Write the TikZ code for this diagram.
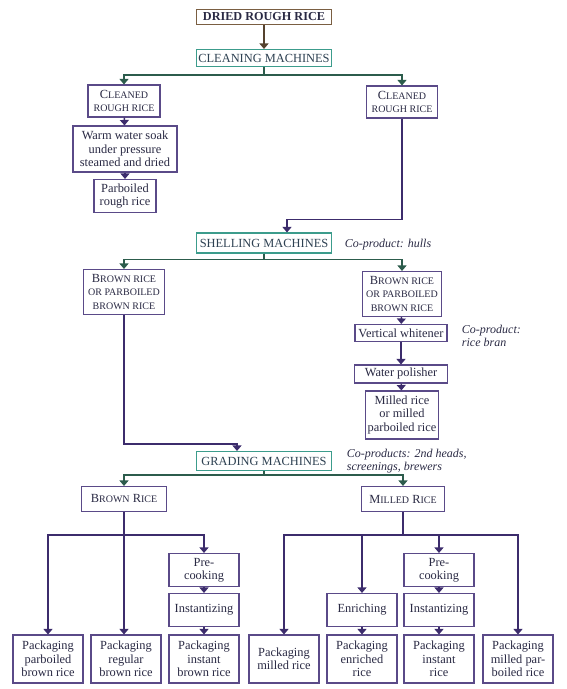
\documentclass[tikz,border=0pt]{standalone}
\usepackage{fontspec}
\setmainfont{Liberation Serif}
\usetikzlibrary{arrows.meta, positioning}

\definecolor{boxpurple}{HTML}{5A4A88}
\definecolor{arrpurple}{HTML}{3C2C6C}
\definecolor{machteal}{HTML}{3C9C8C}
\definecolor{arrgreen}{HTML}{2C5C4C}
\definecolor{rawbrown}{HTML}{7A5E42}
\definecolor{inkdark}{HTML}{2A2A44}

\newcommand{\smcap}[1]{{\fontsize{10}{13.3}\selectfont #1}}

\begin{document}
\begin{tikzpicture}[
    x=1pt, y=-1pt,
    >={Triangle[width=9pt,length=5.5pt]}, line width=1.3pt,
    font=\fontsize{12.4}{13.3}\selectfont,
    step box/.style={
      draw=boxpurple, fill=white, text=inkdark,
      align=center, inner sep=1.5pt, line width=1.1pt},
    machine/.style={
      draw=machteal, fill=white, text=inkdark!80!machteal,
      minimum width=135pt, minimum height=19pt,
      align=center, inner sep=1.5pt, line width=1.1pt},
    pack/.style={
      step box, minimum width=70pt, minimum height=48pt},
    small step/.style={
      step box, minimum width=70pt, minimum height=33pt},
    coprod/.style={
      anchor=west, align=left, text=inkdark, font=\fontsize{12}{12.5}\selectfont\itshape},
    gflow/.style={->, arrgreen},
    pflow/.style={->, arrpurple},
]
\useasboundingbox (0,0) rectangle (567,689);

% ---- intake and cleaning ----
\node[draw=rawbrown, fill=white, text=inkdark, line width=1.1pt,
      minimum width=135pt, minimum height=15pt, inner sep=1pt,
      font=\fontsize{12.2}{13}\selectfont\bfseries] (raw) at (264,17) {DRIED ROUGH RICE};
\node[machine, minimum height=17pt] (cleaning) at (264,58) {CLEANING MACHINES};

\node[step box, minimum width=72pt, minimum height=32pt] (cleanA) at (124,101)
  {C\smcap{LEANED}\\\smcap{ROUGH RICE}};
\node[step box, minimum width=71pt, minimum height=32pt] (cleanB) at (402,102)
  {C\smcap{LEANED}\\\smcap{ROUGH RICE}};

\node[step box, minimum width=104pt, minimum height=46pt] (soak) at (125,149)
  {Warm water soak\\under pressure\\steamed and dried};
\node[step box, minimum width=62pt, minimum height=33pt] (parboiled) at (125,196)
  {Parboiled\\rough rice};

% ---- shelling ----
\node[machine, minimum height=20pt] (shelling) at (264,243) {SHELLING MACHINES};
\node[coprod] (hulls) at (341,245) {Co-product: hulls};

\node[step box, minimum width=81pt, minimum height=45pt] (brownA) at (124,292)
  {B\smcap{ROWN RICE}\\\smcap{OR PARBOILED}\\\smcap{BROWN RICE}};
\node[step box, minimum width=79pt, minimum height=45pt] (brownB) at (402,294)
  {B\smcap{ROWN RICE}\\\smcap{OR PARBOILED}\\\smcap{BROWN RICE}};

\node[step box, minimum width=92pt, minimum height=17pt] (whitener) at (401,333) {Vertical whitener};
\node[coprod] (bran) at (458,336) {Co-product:\\rice bran};
\node[step box, minimum width=93pt, minimum height=18pt] (polisher) at (401,374) {Water polisher};
\node[step box, minimum width=73pt, minimum height=48pt] (milledout) at (402,415)
  {Milled rice\\or milled\\parboiled rice};

% ---- grading ----
\node[machine] (grading) at (264,461) {GRADING MACHINES};
\node[coprod] (gradenote) at (343,461) {Co-products: 2nd heads,\\screenings, brewers};

\node[step box, minimum width=85pt, minimum height=25pt] (brownrice) at (124,499)
  {B\smcap{ROWN} R\smcap{ICE}};
\node[step box, minimum width=83pt, minimum height=25pt] (milledrice) at (403,499)
  {M\smcap{ILLED} R\smcap{ICE}};

% ---- brown rice products ----
\node[pack] (pkParb) at (48,659) {Packaging\\parboiled\\brown rice};
\node[pack] (pkReg) at (126,659) {Packaging\\regular\\brown rice};
\node[small step] (precookA) at (204,570) {Pre-\\cooking};
\node[small step] (instA) at (204,610) {Instantizing};
\node[pack] (pkInstB) at (204,659) {Packaging\\instant\\brown rice};

% ---- milled rice products ----
\node[pack] (pkMilled) at (284,659) {Packaging\\milled rice};
\node[small step] (enrich) at (362,610) {Enriching};
\node[pack] (pkEnr) at (362,659) {Packaging\\enriched\\rice};
\node[small step] (precookB) at (439,570) {Pre-\\cooking};
\node[small step] (instB) at (439,610) {Instantizing};
\node[pack] (pkInst) at (439,659) {Packaging\\instant\\rice};
\node[pack] (pkMilledParb) at (518,659) {Packaging\\milled par-\\boiled rice};

% ---- connectors ----
\draw[->, rawbrown!70!black] (raw) -- (cleaning);
\draw[gflow] (cleaning.south) -- ++(0,8) -| (cleanA.north);
\draw[gflow] (cleaning.south) -- ++(0,8) -| (cleanB.north);
\draw[pflow] (cleanA) -- (soak);
\draw[pflow] (soak) -- (parboiled);
\draw[pflow] (cleanB.south) |- ([xshift=23pt,yshift=13pt]shelling.north)
  -- ([xshift=23pt]shelling.north);

\draw[gflow] (shelling.south) -- ++(0,6) -| (brownA.north);
\draw[gflow] (shelling.south) -- ++(0,6) -| (brownB.north);
\draw[pflow] (brownB) -- (whitener);
\draw[pflow] (whitener) -- (polisher);
\draw[pflow] (polisher) -- (milledout);
\draw[pflow] (brownA.south) |- ([xshift=-27pt,yshift=7pt]grading.north)
  -- ([xshift=-27pt]grading.north);

\draw[gflow] (grading.south) -- ++(0,4) -| (brownrice.north);
\draw[gflow] (grading.south) -- ++(0,4) -| (milledrice.north);

\draw[pflow] (brownrice.south) -- ++(0,23) -| (pkParb.north);
\draw[pflow] (brownrice.south) -- (brownrice.south |- pkReg.north);
\draw[pflow] (brownrice.south) -- ++(0,23) -| (precookA.north);
\draw[pflow] (precookA) -- (instA);
\draw[pflow] (instA) -- (pkInstB);

\draw[pflow] (milledrice.south) -- ++(0,23) -| (pkMilled.north);
\draw[pflow] (milledrice.south) -- ++(0,23) -| (enrich.north);
\draw[pflow] (milledrice.south) -- ++(0,23) -| (precookB.north);
\draw[pflow] (milledrice.south) -- ++(0,23) -| (pkMilledParb.north);
\draw[pflow] (enrich) -- (pkEnr);
\draw[pflow] (precookB) -- (instB);
\draw[pflow] (instB) -- (pkInst);

\end{tikzpicture}
\end{document}
